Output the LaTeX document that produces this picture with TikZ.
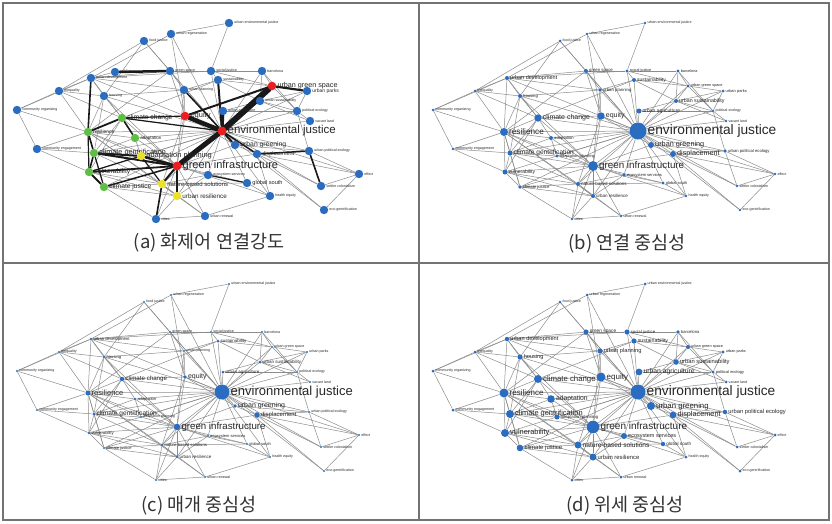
\documentclass[tikz,border=0pt]{standalone}
\usepackage{fontspec}
\setmainfont{Liberation Sans}
\newfontfamily\cjkfont{Noto Sans CJK KR}
\definecolor{nblue}{RGB}{42,108,192}
\definecolor{nred}{RGB}{235,30,35}
\definecolor{ngreen}{RGB}{95,190,70}
\definecolor{nyellow}{RGB}{235,225,40}
\definecolor{egray}{RGB}{140,140,140}
\definecolor{fgray}{RGB}{115,115,115}
\pgfdeclarelayer{bgfill}
\pgfdeclarelayer{edges}
\pgfsetlayers{bgfill,edges,main}
\newcommand\NSetP[4]{\expandafter\def\csname NR@#1@#2\endcsname{#3}\expandafter\def\csname NF@#1@#2\endcsname{#4}}
\newcommand\NSetC[2]{\expandafter\def\csname NC@#1\endcsname{#2}}
\newcommand\NNode[4]{%
  \ifcsname NR@\Npnl @#1\endcsname
    \edef\Nr{\csname NR@\Npnl @#1\endcsname}\edef\Nf{\csname NF@\Npnl @#1\endcsname}%
  \else\edef\Nr{\Ndefr}\edef\Nf{\Ndeff}\fi
  \def\Nc{nblue}%
  \if a\Npnl\ifcsname NC@#1\endcsname\edef\Nc{\csname NC@#1\endcsname}\fi\fi
  \node[dot, fill=\Nc, minimum size=\Nr*2pt] (#1) at (#2,#3) {};
  \node[lab, font=\fontsize{\Nf}{\Nf}\selectfont] (#1-l) at ([xshift=0.8pt]#1.east) {#4};
}
\newcommand\NAllNodes{%
 \NNode{uej}{229}{23}{urban environmental justice}
 \NNode{ureg}{171}{34}{urban regeneration}
 \NNode{fj}{144}{41}{food justice}
 \NNode{gs}{170}{71}{green space}
 \NNode{sj}{211}{71}{social justice}
 \NNode{bar}{262}{71}{barcelona}
 \NNode{sus}{218}{80}{sustainability}
 \NNode{udev}{91}{78}{urban development}
 \NNode{ineq}{59}{91}{inequality}
 \NNode{upl}{184}{90}{urban planning}
 \NNode{ugs}{272}{86}{urban green space}
 \NNode{upk}{307}{91}{urban parks}
 \NNode{hou}{104}{96}{housing}
 \NNode{usus}{260}{101}{urban sustainability}
 \NNode{co}{17}{110}{community organizing}
 \NNode{uag}{223}{111}{urban agriculture}
 \NNode{pe}{297}{111}{political ecology}
 \NNode{cc}{122}{118}{climate change}
 \NNode{eq}{185}{116}{equity}
 \NNode{vl}{310}{121}{vacant land}
 \NNode{ej}{222}{131}{environmental justice}
 \NNode{res}{88}{132}{resilience}
 \NNode{ad}{135}{138}{adaptation}
 \NNode{ce}{37}{149}{community engagement}
 \NNode{ugr}{235}{145}{urban greening}
 \NNode{upe}{309}{151}{urban political ecology}
 \NNode{dis}{257}{154}{displacement}
 \NNode{cg}{94}{153}{climate gentrification}
 \NNode{ap}{141}{156}{adaptation planning}
 \NNode{gi}{177}{166}{green infrastructure}
 \NNode{vul}{89}{172}{vulnerability}
 \NNode{es}{208}{175}{ecosystem services}
 \NNode{nbs}{162}{184}{nature-based solutions}
 \NNode{gso}{247}{183}{global south}
 \NNode{cj}{104}{187}{climate justice}
 \NNode{ur}{177}{196}{urban resilience}
 \NNode{he}{270}{196}{health equity}
 \NNode{eff}{359}{174}{effect}
 \NNode{sc}{321}{186}{settler colonialism}
 \NNode{eg}{324}{210}{eco-gentrification}
 \NNode{urn}{205}{216}{urban renewal}
 \NNode{cit}{156}{219}{cities}
}
\def\NEdges{ej/eq, ej/uag, ej/ugr, ej/dis, ej/gi, ej/sj, ej/sus, ej/upl, ej/ugs, ej/usus, ej/pe, ej/vl, ej/upe, ej/eff, ej/sc, ej/eg, ej/gs, ej/cc, ej/res, ej/cg, ej/ap, ej/nbs, ej/es, ej/gso, ej/he, ej/ur, ej/fj, ej/ureg, ej/hou, ej/udev, ej/ad, ej/vul, ej/cj, ej/upk, ej/bar,
gi/cg, gi/ap, gi/nbs, gi/ur, gi/es, gi/gso, gi/res, gi/vul, gi/cj, gi/cc, gi/eq, gi/ad, gi/cit, gi/urn, gi/upl, gi/ugr, gi/dis, gi/he, gi/hou,
uej/ureg, uej/sj, ureg/udev, ureg/eq, fj/ineq, fj/hou, fj/gs,
udev/gs, udev/ineq, udev/hou, udev/res, udev/co, udev/sj, udev/cc, udev/upl,
gs/sj, gs/upl, gs/eq, gs/res,
sj/bar, sj/sus, sj/ugs, bar/usus, bar/ugs, bar/pe, sus/ugs, sus/usus, sus/upl, sus/cc,
ugs/upk, ugs/usus, ugs/pe, upk/usus, upk/pe, usus/uag, usus/pe, usus/vl, pe/vl, pe/uag, pe/upe,
ineq/co, ineq/res, ineq/hou, ineq/cc, co/res, co/ce, hou/cc, hou/res, hou/cg, hou/upl,
cc/eq, cc/res, cc/ad, cc/cg, cc/vul, eq/upl, eq/nbs, eq/ugr,
res/ad, res/ce, res/cg, res/vul, res/cj, res/ap, res/nbs, res/ur, ce/cg, ce/vul,
ad/cg, ad/ap, ugr/dis, ugr/upe, dis/upe, dis/eff, dis/sc, dis/eg, dis/he, upe/sc, upe/eff, eff/sc, eff/eg,
cg/ap, cg/vul, cg/cj, cg/nbs, vul/cj, vul/nbs, vul/ur, cj/nbs, cj/cit, cj/ur,
nbs/ur, nbs/cit, nbs/es, nbs/gso, nbs/urn, ur/cit, ur/urn, ur/es, urn/he, urn/cit, gso/es, gso/he}
\def\NThick{pub/gs/2.5, udev/res/1.6, cc/res/1.8, cc/ad/1.6, res/cg/1.6, cg/vul/1.6, vul/cj/1.8, res/vul/1.2, cg/cj/1.2, cg/ap/2, cg/gi/2, vul/gi/1.8, vul/ap/1.2, cj/gi/1.5, ap/gi/2.5, ap/nbs/1.2, gi/nbs/2, gi/ur/1.8, nbs/cit/1.6, ej/gi/5, ej/eq/4.5, ej/ugs/6, ej/uag/3, eq/ugs/2, ej/upl/1.5, ugs/upk/2.2, ej/ugr/2, ej/dis/1.5, upe/sc/1.6, dis/upe/1.5, es/gso/1.2, ej/sus/2, cc/eq/1.2, ej/cc/1.2}
% panel (a)
\NSetC{ej}{nred}\NSetC{gi}{nred}\NSetC{eq}{nred}\NSetC{ugs}{nred}
\NSetC{cc}{ngreen}\NSetC{res}{ngreen}\NSetC{ad}{ngreen}\NSetC{cg}{ngreen}\NSetC{vul}{ngreen}\NSetC{cj}{ngreen}
\NSetC{ap}{nyellow}\NSetC{nbs}{nyellow}\NSetC{ur}{nyellow}
\NSetP{a}{ej}{4.5}{11.5}\NSetP{a}{gi}{4.5}{11}\NSetP{a}{ugs}{4.3}{7.2}\NSetP{a}{eq}{4.3}{7.5}
\NSetP{a}{cc}{4.2}{6.7}\NSetP{a}{cg}{4.2}{7.3}\NSetP{a}{ap}{4.2}{7.5}\NSetP{a}{vul}{4.2}{6.8}
\NSetP{a}{cj}{4.2}{6.7}\NSetP{a}{nbs}{4.2}{6}\NSetP{a}{ur}{4.2}{6.3}\NSetP{a}{res}{4.2}{5}
\NSetP{a}{ad}{4.2}{4.5}\NSetP{a}{ugr}{4.2}{6.8}\NSetP{a}{dis}{4.2}{5.4}\NSetP{a}{gso}{4.2}{5.6}\NSetP{a}{upk}{4.2}{5}
% panel (b)
\NSetP{b}{ej}{8.5}{13.7}\NSetP{b}{gi}{5}{9.8}\NSetP{b}{res}{4}{8.2}\NSetP{b}{cc}{3.7}{7}\NSetP{b}{eq}{3.7}{7}
\NSetP{b}{ugr}{3}{7.3}\NSetP{b}{dis}{3}{7.2}\NSetP{b}{cg}{2.5}{6.6}\NSetP{b}{vul}{2.5}{5}\NSetP{b}{udev}{2}{5.5}
\NSetP{b}{gs}{2}{4.3}\NSetP{b}{hou}{2}{4.2}\NSetP{b}{uag}{2.5}{5}\NSetP{b}{sus}{2}{5}\NSetP{b}{usus}{2}{5.3}
\NSetP{b}{sj}{1.6}{3.8}\NSetP{b}{bar}{1.6}{3.8}\NSetP{b}{ugs}{1.6}{3.8}\NSetP{b}{upk}{1.5}{4}\NSetP{b}{ad}{2}{4.2}
\NSetP{b}{nbs}{2}{4.5}\NSetP{b}{ur}{2}{4.5}\NSetP{b}{es}{1.8}{4}\NSetP{b}{gso}{1.6}{4}\NSetP{b}{cj}{1.8}{4.2}
\NSetP{b}{upl}{1.8}{4.3}\NSetP{b}{ap}{1.6}{4}\NSetP{b}{upe}{1.8}{4.2}\NSetP{b}{ineq}{1.5}{3.6}\NSetP{b}{fj}{1.5}{3.6}
% panel (c)
\NSetP{c}{ej}{7.5}{13}\NSetP{c}{gi}{3.3}{9.7}\NSetP{c}{dis}{2.8}{6}\NSetP{c}{res}{2.5}{7.5}\NSetP{c}{cc}{2.2}{6.2}
\NSetP{c}{eq}{1.8}{7}\NSetP{c}{ugr}{1.8}{7}\NSetP{c}{cg}{1.5}{6.6}\NSetP{c}{vul}{1.3}{4.2}\NSetP{c}{ad}{1.3}{4}
\NSetP{c}{udev}{1.3}{4.2}\NSetP{c}{hou}{1.3}{4.2}\NSetP{c}{uag}{1.5}{4.5}\NSetP{c}{usus}{1.5}{4.5}\NSetP{c}{sus}{1.5}{4.5}
\NSetP{c}{nbs}{1.3}{4.2}\NSetP{c}{ur}{1.3}{4.5}\NSetP{c}{es}{1.2}{4}\NSetP{c}{gso}{1.2}{4}\NSetP{c}{cj}{1.2}{4}
% panel (d)
\NSetP{d}{ej}{7.5}{13.7}\NSetP{d}{gi}{6.3}{10}\NSetP{d}{eq}{4.5}{8}\NSetP{d}{res}{4.5}{8}\NSetP{d}{cc}{4}{7.8}
\NSetP{d}{ugr}{4}{7.8}\NSetP{d}{ad}{3.8}{6.8}\NSetP{d}{cg}{4}{7.4}\NSetP{d}{vul}{4}{7.4}\NSetP{d}{uag}{3.4}{6.8}
\NSetP{d}{dis}{3.4}{7.3}\NSetP{d}{nbs}{3.5}{6.6}\NSetP{d}{ur}{3.5}{5.9}\NSetP{d}{cj}{3.3}{6}\NSetP{d}{es}{3}{5.5}
\NSetP{d}{usus}{2.8}{5.8}\NSetP{d}{upl}{2.6}{5.7}\NSetP{d}{gs}{2.6}{4.8}\NSetP{d}{sj}{2.6}{4.3}\NSetP{d}{sus}{2.6}{5.3}
\NSetP{d}{hou}{2.6}{5.6}\NSetP{d}{udev}{2.2}{5.6}\NSetP{d}{upe}{2.2}{5.8}\NSetP{d}{gso}{2.2}{4.6}\NSetP{d}{ap}{2.5}{4.3}
\NSetP{d}{ugs}{2}{3.8}\NSetP{d}{bar}{1.8}{4.2}\NSetP{d}{upk}{1.6}{3.8}\NSetP{d}{pe}{1.6}{4}
\begin{document}
\begin{tikzpicture}[x=1pt,y=-1pt,
  dot/.style={circle, inner sep=0pt, draw=none},
  lab/.style={anchor=west, inner sep=0pt, text=black!85},
  edge/.style={draw=egray, line width=0.5pt},
  thickedge/.style={draw=black!90, line cap=round},
  frame/.style={draw=fgray, line width=1.3pt},
  captext/.style={font=\cjkfont\fontsize{18.5}{20}\selectfont, text=black!80, inner sep=0pt}]
\useasboundingbox (0,0) rectangle (832,523);
\begin{pgfonlayer}{bgfill}
\fill[white] (0,0) rectangle (832,523);
\end{pgfonlayer}
\draw[frame] (3,3) rectangle (829,520);
\draw[frame] (419,3) -- (419,520);
\draw[frame] (3,263) -- (829,263);
% (a)
\begin{scope}[name prefix=a-]
 \def\Npnl{a}\def\Ndefr{4.2}\def\Ndeff{3.6}
 \NAllNodes
 \NNode{pub}{115}{72}{public}
 \begin{pgfonlayer}{edges}
  \foreach \u/\v in \NEdges {\draw[edge] (\u) -- (\v);}
  \draw[edge] (pub) -- (udev);
  \foreach \u/\v/\w in \NThick {\draw[thickedge, line width=\w pt] (\u) -- (\v);}
 \end{pgfonlayer}
 \node[captext] (capa) at (209,243) {(a) 화제어 연결강도};
\end{scope}
% (b)
\begin{scope}[shift={(416,0)}, name prefix=b-]
 \def\Npnl{b}\def\Ndefr{1.3}\def\Ndeff{3.6}
 \NAllNodes
 \begin{pgfonlayer}{edges}
  \foreach \u/\v in \NEdges {\draw[edge] (\u) -- (\v);}
 \end{pgfonlayer}
 \node[captext] (capb) at (211,244) {(b) 연결 중심성};
\end{scope}
% (c)
\begin{scope}[shift={(0,261)}, name prefix=c-]
 \def\Npnl{c}\def\Ndefr{1.2}\def\Ndeff{3.6}
 \NAllNodes
 \begin{pgfonlayer}{edges}
  \foreach \u/\v in \NEdges {\draw[edge] (\u) -- (\v);}
 \end{pgfonlayer}
 \node[captext] (capc) at (199,245) {(c) 매개 중심성};
\end{scope}
% (d)
\begin{scope}[shift={(416,261)}, name prefix=d-]
 \def\Npnl{d}\def\Ndefr{1.5}\def\Ndeff{3.6}
 \NAllNodes
 \begin{pgfonlayer}{edges}
  \foreach \u/\v in \NEdges {\draw[edge] (\u) -- (\v);}
 \end{pgfonlayer}
 \node[captext] (capd) at (209,245) {(d) 위세 중심성};
\end{scope}
\end{tikzpicture}
\end{document}
